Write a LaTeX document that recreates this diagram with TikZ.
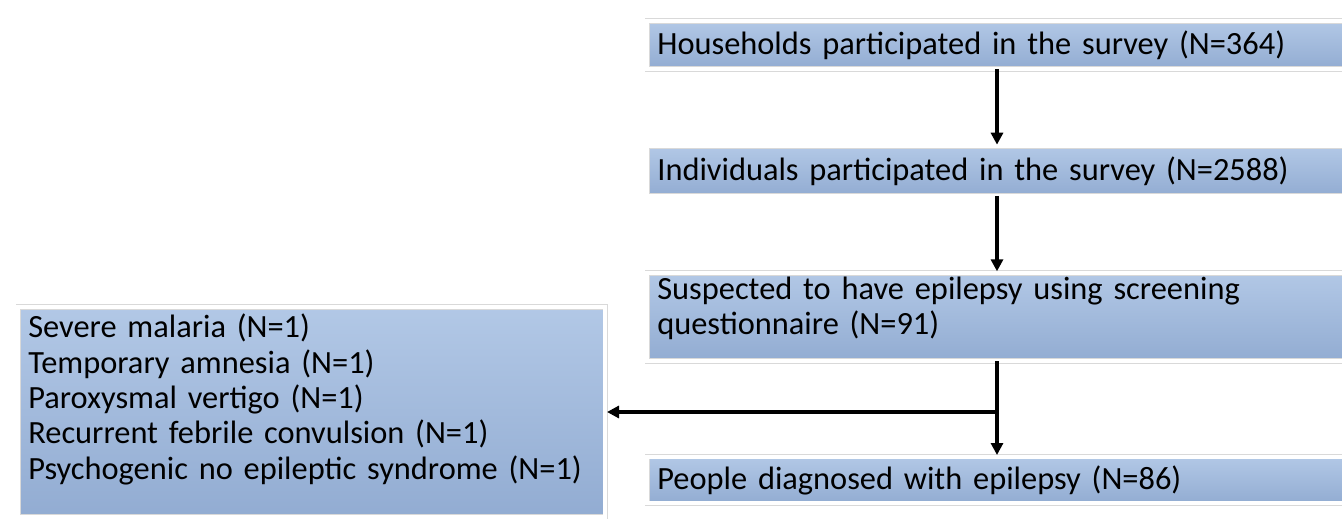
\documentclass[tikz,border=0pt]{standalone}
\usepackage{fontspec}
\setmainfont{Carlito}
\usetikzlibrary{calc,shadows,arrows.meta}

\definecolor{boxtop}{RGB}{178,200,230}
\definecolor{boxbot}{RGB}{146,172,210}
\definecolor{boxedge}{RGB}{104,126,160}

\tikzset{
  stage/.style={draw=black!15, line width=0.5pt, double=white, double distance=3pt,
    top color=boxtop, bottom color=boxbot,
    anchor=west, inner xsep=7.5pt, inner ysep=3pt, align=left,
    font=\fontsize{24.3}{26.5}\selectfont,
    path picture={\draw[boxedge, line width=1.6pt]
      (path picture bounding box.south west) -- (path picture bounding box.south east);}},
  flow/.style={line width=3pt, -{Triangle[length=9pt,width=9pt]}, shorten >=1pt}
}

\begin{document}
\begin{tikzpicture}[x=0.75pt,y=0.75pt]
  \useasboundingbox (0,0) rectangle (1342,518);
  \clip (0,0) rectangle (1342,518);

  %% Boxes of the main column (cut at the right edge)
  \node[stage, minimum width=534.75pt, text width=519.75pt, minimum height=36pt]
    (HOUSE) at (647,473) {Households participated in the survey (N=364)};
  \node[stage, minimum width=534.75pt, text width=519.75pt, minimum height=37pt]
    (INDIV) at (647,347) {Individuals participated in the survey (N=2588)};
  \node[stage, minimum width=534.75pt, text width=519.75pt, minimum height=66pt]
    (SUSP) at (647,201)
    {\parbox[c][60pt][t]{519.75pt}{Suspected to have epilepsy using screening\\questionnaire (N=91)}};
  \node[stage, minimum width=534.75pt, text width=519.75pt, minimum height=35pt]
    (DIAG) at (647,38) {People diagnosed with epilepsy (N=86)};

  %% Box of the excluded ones
  \node[stage, minimum width=440.25pt, text width=425.25pt, minimum height=157.5pt]
    (EXCL) at (18,106)
    {\parbox[c][147pt][t]{425.25pt}{Severe malaria (N=1)\\
     Temporary amnesia (N=1)\\
     Paroxysmal vertigo (N=1)\\
     Recurrent febrile convulsion (N=1)\\
     Psychogenic no epileptic syndrome (N=1)}};

  %% Arrows
  \coordinate (A1) at ($(HOUSE.south west)+(350,0)$);
  \coordinate (A2) at ($(INDIV.south west)+(350,0)$);
  \coordinate (A3) at ($(SUSP.south west)+(350,0)$);
  \coordinate (J)  at (A3 |- EXCL.east);
  \draw[flow] (A1) -- (A1 |- INDIV.north);
  \draw[flow] (A2) -- (A2 |- SUSP.north);
  \draw[flow] (A3) -- (A3 |- DIAG.north);
  \draw[flow] ([xshift=1.5pt]J) -- (EXCL.east);
\end{tikzpicture}
\end{document}
